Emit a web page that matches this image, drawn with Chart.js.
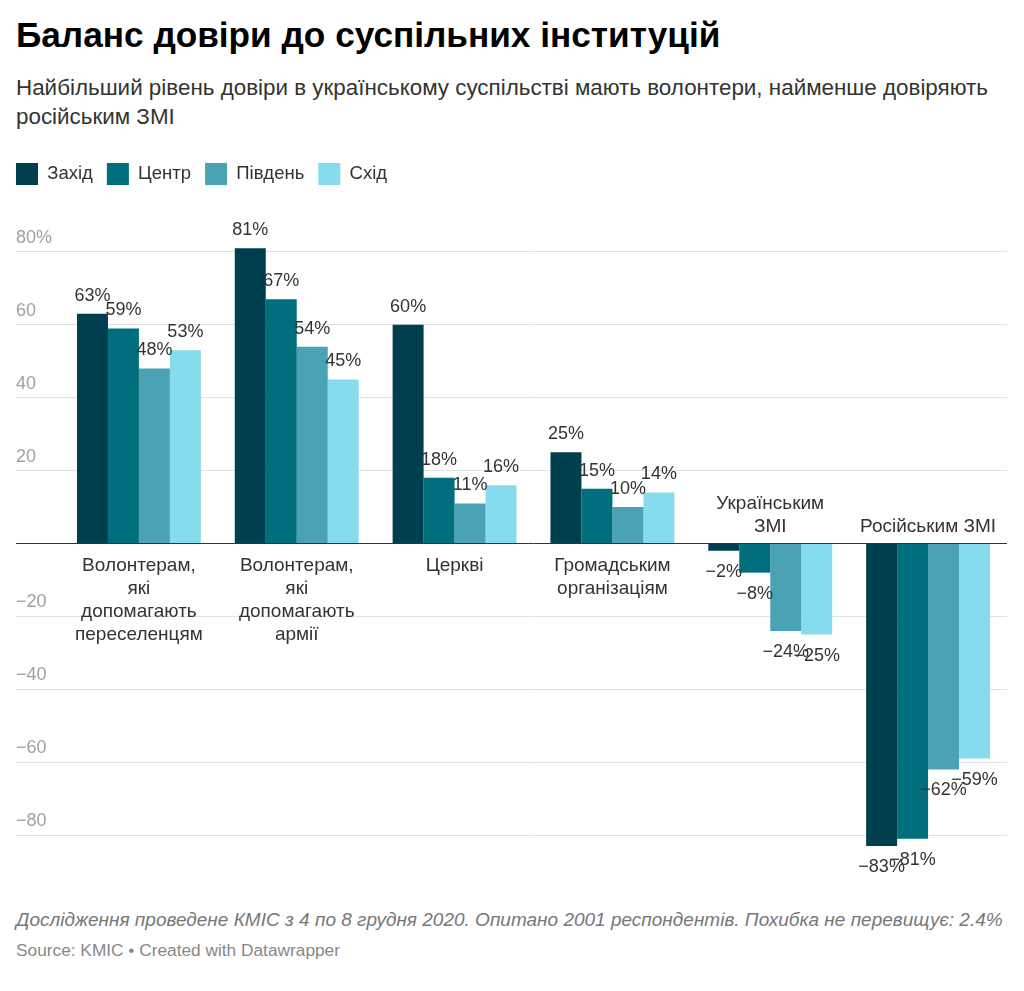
<!DOCTYPE html>
<html>
<head>
<meta charset="utf-8">
<script src="https://cdn.jsdelivr.net/npm/chart.js@4/dist/chart.umd.min.js"></script>
<style>
html,body{margin:0;padding:0;background:#fff;}
body{width:1024px;height:991px;position:relative;overflow:hidden;font-family:"Liberation Sans",Arial,sans-serif;}
#title{position:absolute;left:16px;top:15px;font-size:35.2px;line-height:40px;font-weight:700;color:#000;white-space:nowrap;margin:0}
#subtitle{position:absolute;left:16px;top:73px;font-size:22.4px;line-height:29px;color:#333;white-space:nowrap;margin:0}
#chartbox{position:absolute;left:0;top:149px;width:1024px;height:724px}
#note{position:absolute;left:16px;top:908px;font-size:19px;line-height:24px;font-style:italic;color:#777;white-space:nowrap}
#source{position:absolute;left:16px;top:940px;font-size:17.3px;line-height:20px;color:#888;white-space:nowrap}
</style>
</head>
<body>
<h1 id="title">Баланс довіри до суспільних інституцій</h1>
<p id="subtitle">Найбільший рівень довіри в українському суспільстві мають волонтери, найменше довіряють<br>російським ЗМІ</p>
<div id="chartbox"><canvas id="c" width="1024" height="724"></canvas></div>
<div id="note">Дослідження проведене КМІС з 4 по 8 грудня 2020. Опитано 2001 респондентів. Похибка не перевищує: 2.4%</div>
<div id="source">Source: KMIC • Created with Datawrapper</div>
<script>
// ---- data ----
const categories = [
  ['Волонтерам,', 'які', 'допомагають', 'переселенцям'],
  ['Волонтерам,', 'які', 'допомагають', 'армії'],
  'Церкві',
  ['Громадським', 'організаціям'],
  ['Українським', 'ЗМІ'],
  'Російським ЗМІ'
];
const seriesNames = ['Захід', 'Центр', 'Південь', 'Схід'];
const zakhid  = [63, 81, 60, 25, -2, -83];
const tsentr  = [59, 67, 18, 15, -8, -81];
const pivden  = [48, 54, 11, 10, -24, -62];
const skhid   = [53, 45, 16, 14, -25, -59];
const yTickValues = [-80, -60, -40, -20, 0, 20, 40, 60, 80];
const colors = ['#003f4f', '#006e7c', '#4aa3b5', '#86dbee'];

const seriesValues = [zakhid, tsentr, pivden, skhid];
// category label goes below the zero line if bars go up, above if bars go down
const labelBelow = categories.map((c, i) => seriesValues.reduce((s, arr) => s + arr[i], 0) >= 0);

function fmtPct(v) { return (v < 0 ? '\u2212' + Math.abs(v) : String(v)) + '%'; }

const FONT = '"Liberation Sans", Arial, sans-serif';

const valueLabels = {
  id: 'valueLabels',
  afterDatasetsDraw(chart) {
    const ctx = chart.ctx;
    ctx.save();
    ctx.font = '18px ' + FONT;
    ctx.fillStyle = '#333';
    ctx.textAlign = 'center';
    ctx.textBaseline = 'middle';
    chart.data.datasets.forEach((ds, di) => {
      const meta = chart.getDatasetMeta(di);
      meta.data.forEach((el, i) => {
        const v = ds.data[i];
        const y = v >= 0 ? el.y - 18 : el.y + 21;
        ctx.fillText(fmtPct(v), el.x, y);
      });
    });
    ctx.restore();
  }
};

Chart.defaults.font.family = FONT;
Chart.defaults.color = '#333';

new Chart(document.getElementById('c'), {
  type: 'bar',
  data: {
    labels: categories,
    datasets: seriesNames.map((name, i) => ({
      label: name,
      data: seriesValues[i],
      backgroundColor: colors[i],
      borderWidth: 0,
      categoryPercentage: 0.785,
      barPercentage: 1
    }))
  },
  options: {
    responsive: false,
    animation: false,
    devicePixelRatio: 1,
    layout: { padding: { left: 2, right: 17, top: 0, bottom: 0 } },
    plugins: {
      tooltip: { enabled: false },
      legend: {
        position: 'top',
        align: 'start',
        labels: { boxWidth: 22, boxHeight: 22, padding: 14, font: { size: 18.5 }, color: '#333' }
      }
    },
    scales: {
      y: {
        min: -90.4,
        max: 95.6,
        afterBuildTicks(scale) { scale.ticks = yTickValues.map(v => ({ value: v })); },
        afterFit(scale) { scale.width = 58; },
        border: { display: false },
        grid: {
          color: c => (c.tick && c.tick.value === 0) ? '#333' : '#e2e2e2',
          lineWidth: 1,
          drawTicks: true,
          tickLength: 44
        },
        ticks: {
          mirror: true,
          crossAlign: 'near',
          padding: -44,
          labelOffset: -14,
          color: '#a0a0a0',
          font: { size: 18 },
          callback: v => v === 80 ? '80%' : (v === 0 ? '' : (v < 0 ? '\u2212' + Math.abs(v) : String(v)))
        }
      },
      x: {
        type: 'category',
        position: { y: 0 },
        offset: true,
        afterFit(scale) { scale.height = 0; },
        grid: { display: false },
        border: { display: false },
        ticks: {
          autoSkip: false, maxRotation: 0, minRotation: 0,
          padding: 3, z: 1,
          color: '#333', font: { size: 19, lineHeight: 1.2 },
          callback: (v, i) => labelBelow[i] ? categories[i] : ''
        }
      },
      x2: {
        type: 'category',
        axis: 'x',
        position: { y: 0 },
        offset: true,
        afterFit(scale) { scale.height = 0; },
        grid: { display: false },
        border: { display: false },
        ticks: {
          autoSkip: false, maxRotation: 0, minRotation: 0,
          padding: -48, z: 1, crossAlign: 'far',
          color: '#333', font: { size: 19, lineHeight: 1.2 },
          callback: (v, i) => labelBelow[i] ? '' : categories[i]
        }
      }
    }
  },
  plugins: [valueLabels]
});
</script>
</body>
</html>
